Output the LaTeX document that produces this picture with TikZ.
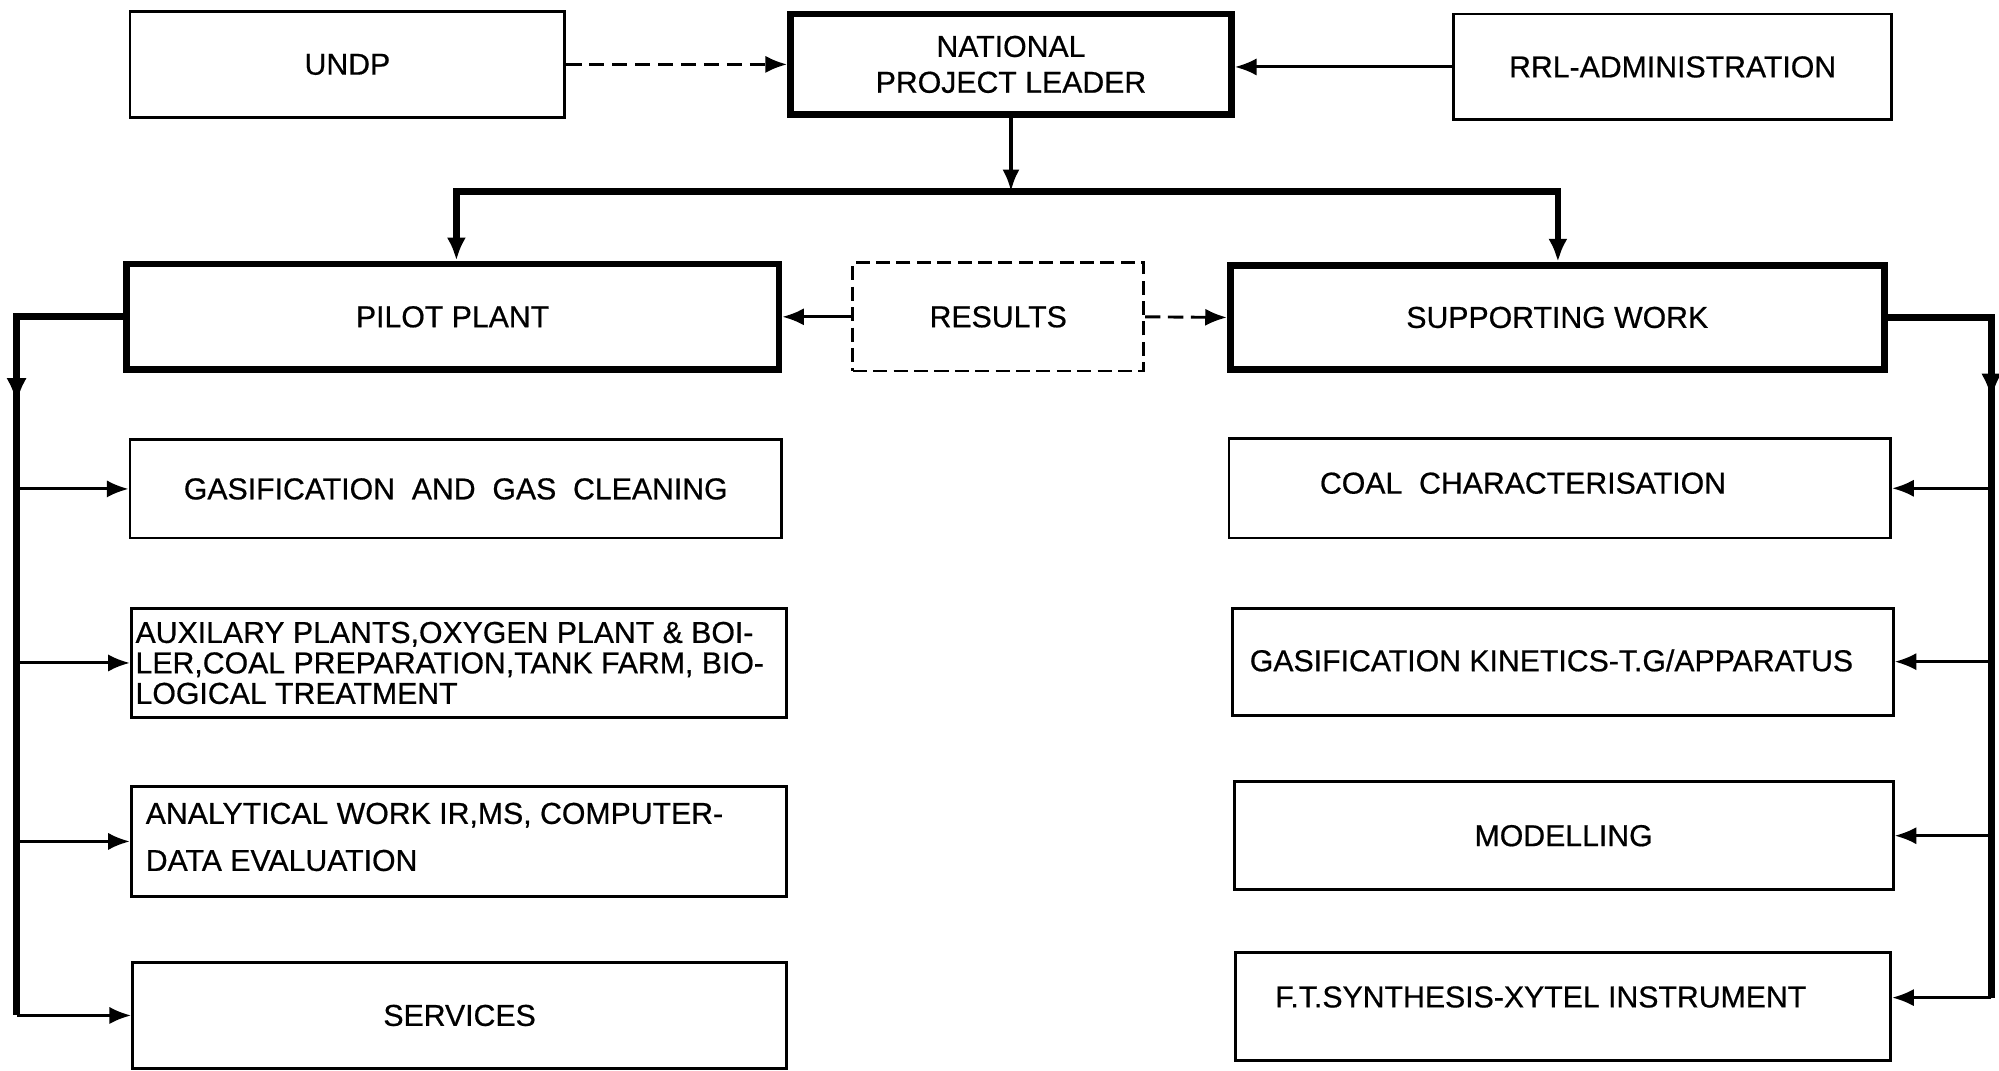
\documentclass[tikz,border=0pt]{standalone}
\usepackage{fontspec}
\newfontfamily\lett{Liberation Sans}[FakeBold=0.6]
\usetikzlibrary{arrows.meta,calc}
% box from corner (x1,y1) to (x2,y2), in picture units
\newcommand\bxn[7]{\node[#1, minimum width={(#5-#3)*0.02cm}, minimum height={(#6-#4)*0.02cm}]
  (#2) at ({(#3+#5)/2},{(#4+#6)/2}) {#7};}
\begin{document}
\begin{tikzpicture}[x=0.02cm,y=-0.02cm,
  lbl/.style={font=\lett\fontsize{13.5}{16}\selectfont},
  bx/.style={draw, line width=1.3pt, inner sep=0pt, lbl, align=center},
  tbx/.style={bx, line width=3pt},
  dbx/.style={bx, dash pattern=on 0.22cm off 0.1cm},
  arrw/.style={-{Latex[length=0.34cm,width=0.27cm]}},
  harrw/.style={-{Latex[length=0.4cm,width=0.32cm]}},
  both/.style={{Latex[length=0.36cm,width=0.3cm]}-{Latex[length=0.36cm,width=0.3cm]}},
  cthin/.style={line width=1.3pt},
  cmed/.style={line width=1.7pt},
  cheavy/.style={line width=3pt},
  dsh/.style={dash pattern=on 0.24cm off 0.12cm},
  txt/.style={lbl, anchor=west, inner sep=0pt, align=left},
]
\useasboundingbox (0,0) rectangle (1568,840);

% top row
\bxn{bx}{undp}{102}{9}{443}{92}{UNDP}
\bxn{tbx}{npl}{620}{11}{966}{90}{NATIONAL\\PROJECT LEADER}
\bxn{bx}{rrl}{1140}{11}{1484}{94}{RRL-ADMINISTRATION}

% second row
\bxn{tbx}{pilot}{99}{207}{611}{290}{PILOT PLANT}
\bxn{dbx}{res}{669}{206}{897}{291}{RESULTS}
\bxn{tbx}{sw}{965}{208}{1478}{290}{SUPPORTING WORK}

% left column
\bxn{bx}{gas}{102}{345}{613}{422}{GASIFICATION \ AND \ GAS \ CLEANING}
\bxn{bx}{aux}{103}{477}{617}{563}{}
\node[txt, font=\lett\fontsize{13.5}{13.6}\selectfont] (auxt) at (106,520)
  {AUXILARY PLANTS,OXYGEN PLANT \& BOI-\\LER,COAL PREPARATION,TANK FARM, BIO-\\LOGICAL TREATMENT};
\bxn{bx}{ana}{103}{617}{617}{703}{}
\node[txt, font=\lett\fontsize{13.5}{21}\selectfont] (anat) at (114,656.5)
  {ANALYTICAL WORK IR,MS, COMPUTER-\\DATA EVALUATION};
\bxn{bx}{serv}{104}{755}{617}{838}{SERVICES}

% right column
\bxn{bx}{coal}{964}{344}{1483}{422}{}
\node[txt] (coalt) at (1035,379) {COAL \ CHARACTERISATION};
\bxn{bx}{kin}{967}{477}{1485}{561}{}
\node[txt] (kint) at (980,518) {GASIFICATION KINETICS-T.G/APPARATUS};
\bxn{bx}{mod}{968}{613}{1485}{698}{MODELLING}
\bxn{bx}{ft}{969}{747}{1483}{832}{}
\node[txt] (ftt) at (1000,782) {F.T.SYNTHESIS-XYTEL INSTRUMENT};

% top connectors
\draw[cthin, dsh, arrw] (undp.east) -- (undp.east -| npl.west);
\draw[cthin, arrw] (rrl.west) -- (rrl.west -| npl.east);
\coordinate (bl) at (358,150);
\coordinate (br) at (1222,150);
\draw[cmed, arrw] (npl.south) -- (npl.south |- bl);
\draw[cheavy, both] (bl |- pilot.north) -- (bl) -- (br) -- (br |- sw.north);

% results
\draw[cthin, arrw] (res.west) -- (pilot.east);
\draw[cthin, dsh, arrw] (res.east) -- (sw.west);

% left trunk
\coordinate (lt) at (13,252);
\draw[cheavy] (pilot.west) -- (pilot.west -| lt) -- (lt |- serv.west);
\draw[cheavy, harrw] (pilot.west -| lt) -- ++(0,68);
\foreach \n in {gas,aux,ana,serv}
  \draw[cthin, arrw] (lt |- \n.west) -- (\n.west);

% right trunk
\coordinate (rt) at (1562,250);
\coordinate (ftin) at ([yshift=0.14cm]ft.east);
\draw[cheavy] (sw.east) -- (sw.east -| rt) -- (rt |- ftin);
\draw[cheavy, harrw] (sw.east -| rt) -- ++(0,64);
\foreach \n in {coal,kin,mod}
  \draw[cthin, arrw] (rt |- \n.east) -- (\n.east);
\draw[cthin, arrw] (rt |- ftin) -- (ftin);
\end{tikzpicture}
\end{document}
